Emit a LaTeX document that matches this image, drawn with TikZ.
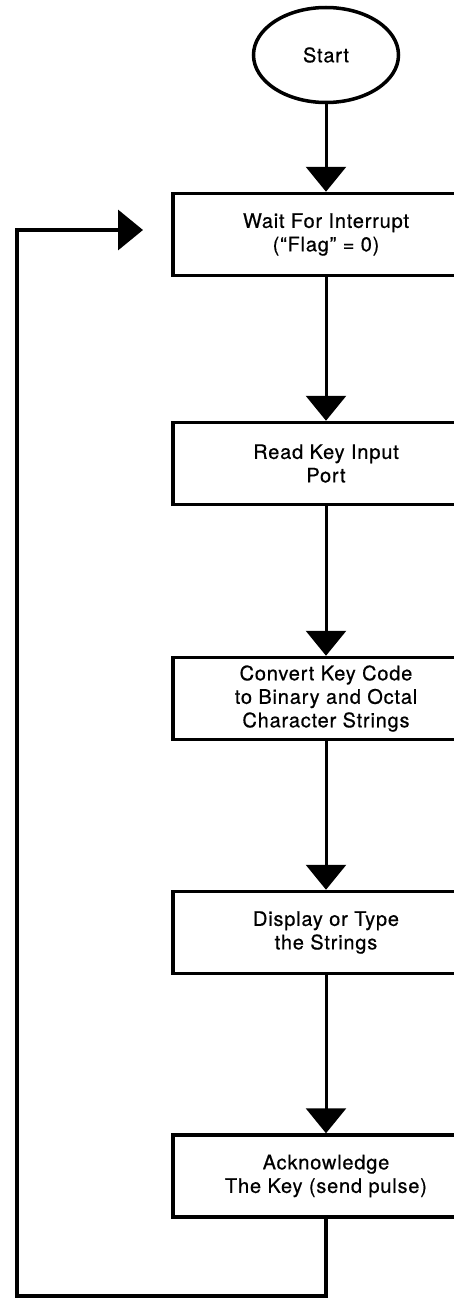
\documentclass[tikz,border=0pt]{standalone}
\usepackage{fontspec}
\setsansfont{TeX Gyre Heros}[LetterSpace=4, FakeBold=0.6]
\usetikzlibrary{shapes.geometric,arrows.meta}

\begin{document}
\begin{tikzpicture}[x=1pt, y=-1pt]
    \tikzset{stepbox/.style={rectangle, draw=black, line width=3.5pt, minimum width=306pt, minimum height=82pt, align=center, inner sep=0pt, font=\sffamily\fontsize{20}{23.5}\selectfont}}
    \tikzset{terminal/.style={ellipse, draw=black, line width=3.5pt, minimum width=145pt, minimum height=95pt, inner sep=0pt, font=\sffamily\fontsize{20}{23.5}\selectfont}}
    \tikzset{flow/.style={line width=3pt, -{Triangle[width=40pt, length=25pt]}}}

    % ── PAGE ─────────────────────────────────────────────
    \useasboundingbox (0,0) rectangle (454,1298);
    \clip (0,0) rectangle (454,1298);

    % ── STEPS ────────────────────────────────────────────
    \node[terminal] (start) at (326, 55) {Start};
    \node[stepbox] (wait) at (326, 234.5) {Wait For Interrupt\\(“Flag” = 0)};
    \node[stepbox] (read) at (326, 463.5) {Read Key Input\\Port};
    \node[stepbox] (convert) at (326, 698.5) {Convert Key Code\\to Binary and Octal\\Character Strings};
    \node[stepbox] (display) at (326, 932.5) {Display or Type\\the Strings};
    \node[stepbox] (ack) at (326, 1176) {Acknowledge\\The Key (send pulse)};

    % ── ARROWS ───────────────────────────────────────────
    \draw[flow] (start) -- (wait);
    \draw[flow] (wait) -- (read);
    \draw[flow] (read) -- (convert);
    \draw[flow] (convert) -- (display);
    \draw[flow] (display) -- (ack);

    % ── LOOP BACK ────────────────────────────────────────
    \coordinate (corner) at (17, 1296);
    \coordinate (back) at (143, 230);
    \draw[flow, line width=3.5pt] (ack.south) |- (corner) |- (back);

\end{tikzpicture}
\end{document}
